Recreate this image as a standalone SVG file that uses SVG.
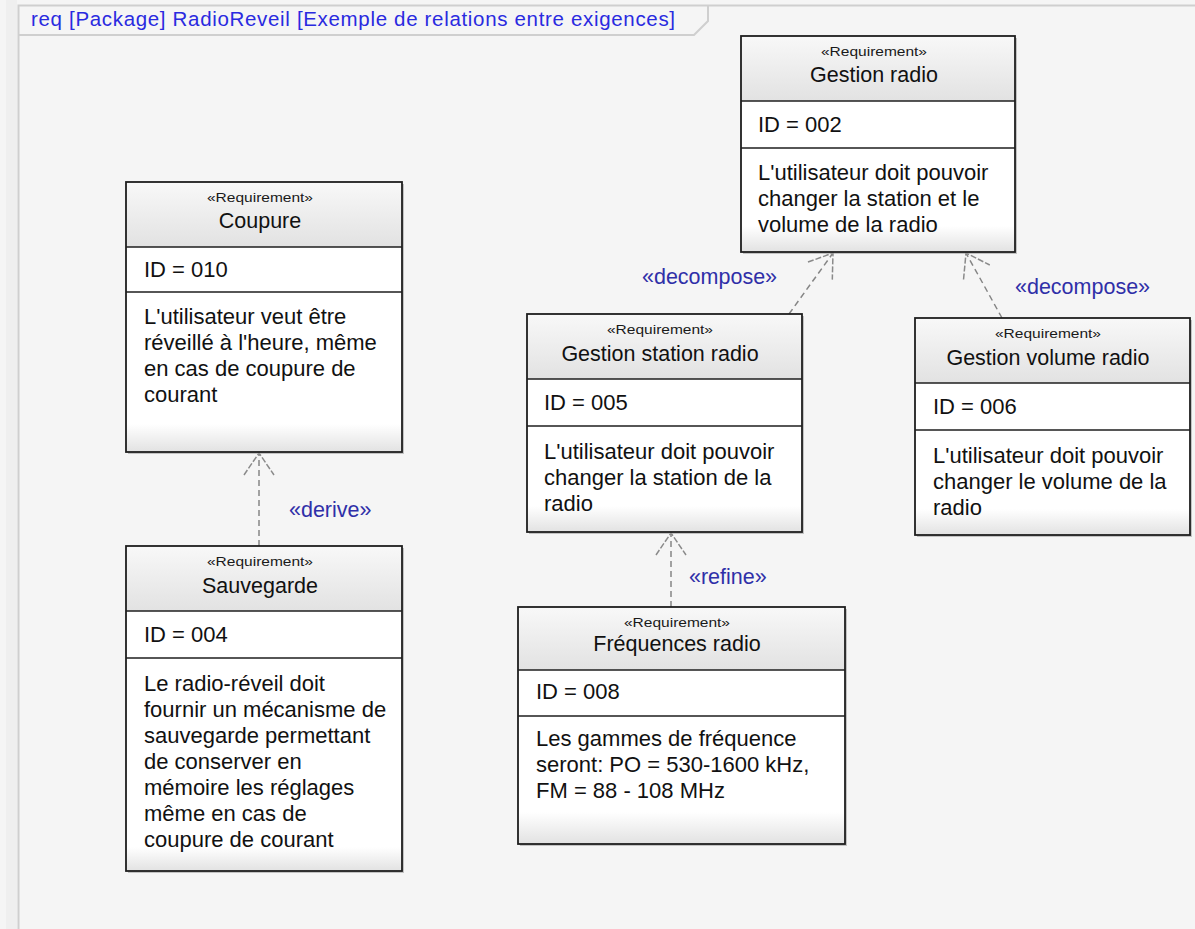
<svg xmlns="http://www.w3.org/2000/svg" width="1195" height="929" viewBox="0 0 1195 929">
<defs>
<linearGradient id="hdr" x1="0" y1="0" x2="0" y2="1"><stop offset="0" stop-color="#f8f8f8"/><stop offset="1" stop-color="#e2e2e2"/></linearGradient>
<linearGradient id="foot" x1="0" y1="0" x2="0" y2="1"><stop offset="0" stop-color="#ffffff"/><stop offset="1" stop-color="#e2e2e2"/></linearGradient>
<marker id="open" markerUnits="userSpaceOnUse" markerWidth="60" markerHeight="60" refX="0" refY="0" viewBox="-30 -30 60 60" orient="auto" overflow="visible">
<path d="M-22,-15 L0,0 L-22,15" fill="none" stroke="#8a8a8a" stroke-width="1.5" stroke-dasharray="6 2"/>
</marker>
<style>
.frame{fill:none;stroke:#cfcfcf;stroke-width:2}
.title{font-family:"Liberation Sans",Arial,sans-serif;font-size:20.5px;fill:#2a2ae0}
.shadow{fill:#a0a0a0;opacity:0.6}
.hdr{fill:url(#hdr)}
.cmp{fill:#ffffff}
.foot{fill:url(#foot)}
.div{stroke:#1e1e1e;stroke-width:1.5}
.box{fill:none;stroke:#1e1e1e;stroke-width:1.8}
.st{font-family:"Liberation Sans",Arial,sans-serif;font-size:13px;fill:#1a1a1a;text-anchor:middle}
.nm{font-family:"Liberation Sans",Arial,sans-serif;font-size:21.5px;fill:#111;text-anchor:middle}
.tx{font-family:"Liberation Sans",Arial,sans-serif;font-size:22px;fill:#111}
.edge{fill:none;stroke:#858585;stroke-width:1.5;stroke-dasharray:6 4;marker-end:url(#open)}
.lbl{font-family:"Liberation Sans",Arial,sans-serif;font-size:21.5px;fill:#2f2fa8}
</style>
</defs>

<rect x="0" y="0" width="1195" height="929" fill="#f5f5f5"/>
<rect x="6" y="0" width="11" height="929" fill="#efefef"/>

<g id="frame">
<path class="frame" d="M18.5,929 V5.5 H1195"/>
<path class="frame" stroke-width="1.5" d="M18.5,35 H694 L708,21 V5.5"/>
<text class="title" x="31" y="26" textLength="644" lengthAdjust="spacing">req [Package] RadioReveil [Exemple de relations entre exigences]</text>
</g>

<g id="connectors">
<line class="edge" x1="259" y1="546" x2="259" y2="453"/>
<line class="edge" x1="671" y1="607" x2="671" y2="533"/>
<line class="edge" x1="789" y1="314" x2="833" y2="253"/>
<line class="edge" x1="1002" y1="318" x2="966" y2="253"/>
<text class="lbl" x="289" y="517">«derive»</text>
<text class="lbl" x="689" y="584">«refine»</text>
<text class="lbl" x="642" y="284">«decompose»</text>
<text class="lbl" x="1015" y="294">«decompose»</text>
</g>

<g id="n-gestion-radio">
<rect class="shadow" x="743" y="38" width="274" height="216"/>
<rect class="hdr" x="741" y="36" width="274" height="65"/>
<rect class="cmp" x="741" y="101" width="274" height="151"/>
<rect class="foot" x="741" y="226" width="274" height="26"/>
<line class="div" x1="741" y1="101" x2="1015" y2="101"/>
<line class="div" x1="741" y1="148" x2="1015" y2="148"/>
<rect class="box" x="741" y="36" width="274" height="216"/>
<text class="st" x="874" y="56" textLength="106" lengthAdjust="spacingAndGlyphs">«Requirement»</text>
<text class="nm" x="874" y="82">Gestion radio</text>
<text class="tx" x="758" y="132">ID = 002</text>
<text class="tx"><tspan x="758" y="180">L'utilisateur doit pouvoir</tspan><tspan x="758" y="206">changer la station et le</tspan><tspan x="758" y="232">volume de la radio</tspan></text>
</g>

<g id="n-coupure">
<rect class="shadow" x="128" y="184" width="276" height="270"/>
<rect class="hdr" x="126" y="182" width="276" height="65"/>
<rect class="cmp" x="126" y="247" width="276" height="205"/>
<rect class="foot" x="126" y="424" width="276" height="28"/>
<line class="div" x1="126" y1="247" x2="402" y2="247"/>
<line class="div" x1="126" y1="292" x2="402" y2="292"/>
<rect class="box" x="126" y="182" width="276" height="270"/>
<text class="st" x="260" y="202" textLength="106" lengthAdjust="spacingAndGlyphs">«Requirement»</text>
<text class="nm" x="260" y="228">Coupure</text>
<text class="tx" x="144" y="277">ID = 010</text>
<text class="tx"><tspan x="144" y="324">L'utilisateur veut être</tspan><tspan x="144" y="350">réveillé à l'heure, même</tspan><tspan x="144" y="376">en cas de coupure de</tspan><tspan x="144" y="402">courant</tspan></text>
</g>

<g id="n-gestion-station-radio">
<rect class="shadow" x="529" y="316" width="275" height="218"/>
<rect class="hdr" x="527" y="314" width="275" height="65"/>
<rect class="cmp" x="527" y="379" width="275" height="153"/>
<rect class="foot" x="527" y="506" width="275" height="26"/>
<line class="div" x1="527" y1="379" x2="802" y2="379"/>
<line class="div" x1="527" y1="426" x2="802" y2="426"/>
<rect class="box" x="527" y="314" width="275" height="218"/>
<text class="st" x="660" y="334" textLength="106" lengthAdjust="spacingAndGlyphs">«Requirement»</text>
<text class="nm" x="660" y="361">Gestion station radio</text>
<text class="tx" x="544" y="410">ID = 005</text>
<text class="tx"><tspan x="544" y="459">L'utilisateur doit pouvoir</tspan><tspan x="544" y="485">changer la station de la</tspan><tspan x="544" y="511">radio</tspan></text>
</g>

<g id="n-gestion-volume-radio">
<rect class="shadow" x="917" y="320" width="275" height="217"/>
<rect class="hdr" x="915" y="318" width="275" height="65"/>
<rect class="cmp" x="915" y="383" width="275" height="152"/>
<rect class="foot" x="915" y="509" width="275" height="26"/>
<line class="div" x1="915" y1="383" x2="1190" y2="383"/>
<line class="div" x1="915" y1="430" x2="1190" y2="430"/>
<rect class="box" x="915" y="318" width="275" height="217"/>
<text class="st" x="1048" y="338" textLength="106" lengthAdjust="spacingAndGlyphs">«Requirement»</text>
<text class="nm" x="1048" y="365">Gestion volume radio</text>
<text class="tx" x="933" y="414">ID = 006</text>
<text class="tx"><tspan x="933" y="463">L'utilisateur doit pouvoir</tspan><tspan x="933" y="489">changer le volume de la</tspan><tspan x="933" y="515">radio</tspan></text>
</g>

<g id="n-sauvegarde">
<rect class="shadow" x="128" y="548" width="276" height="325"/>
<rect class="hdr" x="126" y="546" width="276" height="65"/>
<rect class="cmp" x="126" y="611" width="276" height="260"/>
<rect class="foot" x="126" y="847" width="276" height="24"/>
<line class="div" x1="126" y1="611" x2="402" y2="611"/>
<line class="div" x1="126" y1="658" x2="402" y2="658"/>
<rect class="box" x="126" y="546" width="276" height="325"/>
<text class="st" x="260" y="566" textLength="106" lengthAdjust="spacingAndGlyphs">«Requirement»</text>
<text class="nm" x="260" y="593">Sauvegarde</text>
<text class="tx" x="144" y="642">ID = 004</text>
<text class="tx"><tspan x="144" y="691">Le radio-réveil doit</tspan><tspan x="144" y="717">fournir un mécanisme de</tspan><tspan x="144" y="743">sauvegarde permettant</tspan><tspan x="144" y="769">de conserver en</tspan><tspan x="144" y="795">mémoire les réglages</tspan><tspan x="144" y="821">même en cas de</tspan><tspan x="144" y="847">coupure de courant</tspan></text>
</g>

<g id="n-frequences-radio">
<rect class="shadow" x="520" y="609" width="327" height="237"/>
<rect class="hdr" x="518" y="607" width="327" height="63"/>
<rect class="cmp" x="518" y="670" width="327" height="174"/>
<rect class="foot" x="518" y="812" width="327" height="32"/>
<line class="div" x1="518" y1="670" x2="845" y2="670"/>
<line class="div" x1="518" y1="716" x2="845" y2="716"/>
<rect class="box" x="518" y="607" width="327" height="237"/>
<text class="st" x="677" y="627" textLength="106" lengthAdjust="spacingAndGlyphs">«Requirement»</text>
<text class="nm" x="677" y="651">Fréquences radio</text>
<text class="tx" x="536" y="699">ID = 008</text>
<text class="tx"><tspan x="536" y="746">Les gammes de fréquence</tspan><tspan x="536" y="772">seront: PO = 530-1600 kHz,</tspan><tspan x="536" y="798">FM = 88 - 108 MHz</tspan></text>
</g>
</svg>
